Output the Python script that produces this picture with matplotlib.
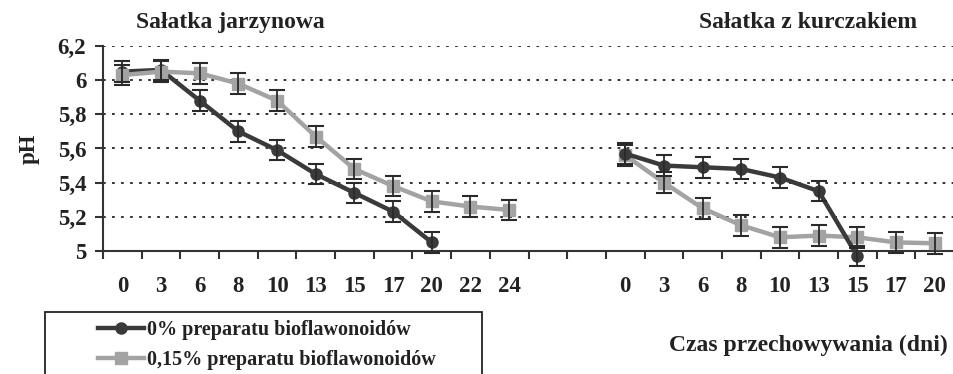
import matplotlib
matplotlib.use("Agg")
import matplotlib.pyplot as plt
from matplotlib.patches import Rectangle
import numpy as np

plt.rcParams['font.family'] = ['Liberation Serif', 'DejaVu Serif']
plt.rcParams['font.weight'] = 'bold'

# Categories (storage time, days)
days_veg = ["0", "3", "6", "8", "10", "13", "15", "17", "20", "22", "24"]
days_chk = ["0", "3", "6", "8", "10", "13", "15", "17", "20"]
gap = 2  # empty categories between the two panels

# Sałatka jarzynowa
veg_0 = [6.05, 6.06, 5.88, 5.70, 5.59, 5.45, 5.34, 5.23, 5.05, None, None]
veg_015 = [6.03, 6.05, 6.04, 5.98, 5.88, 5.67, 5.48, 5.38, 5.29, 5.26, 5.24]
# Sałatka z kurczakiem
chk_0 = [5.57, 5.50, 5.49, 5.48, 5.43, 5.35, 4.97, None, None]
chk_015 = [5.56, 5.40, 5.25, 5.15, 5.08, 5.09, 5.08, 5.05, 5.045]
err = 0.06

yticks = [5.0, 5.2, 5.4, 5.6, 5.8, 6.0, 6.2]
yticklabels = ["5", "5,2", "5,4", "5,6", "5,8", "6", "6,2"]

c_dark = "#3a3a3a"
c_gray = "#a3a3a3"
c_err = "#2a2a2a"

fig = plt.figure(figsize=(9.54, 3.74), dpi=100)
ax = fig.add_axes([0.108, 0.329, 0.892, 0.548])

n_veg = len(days_veg)
n_chk = len(days_chk)
x_veg = np.arange(n_veg)
x_chk = np.arange(n_chk) + n_veg + gap
ncat = n_veg + gap + n_chk


def plot_series(x, vals, color, marker, label=None):
    xs = [xi for xi, v in zip(x, vals) if v is not None]
    ys = [v for v in vals if v is not None]
    line, = ax.plot(xs, ys, color=color, lw=3.2, marker=marker, ms=8,
                    mfc=color, mec=color, zorder=3, clip_on=False, label=label)
    ax.errorbar(xs, ys, yerr=err, fmt='none', ecolor=c_err, elinewidth=1.3,
                capsize=5.5, capthick=1.5, zorder=4, clip_on=False)
    return line


h1 = plot_series(x_veg, veg_0, c_dark, 'o', "0% preparatu bioflawonoidów")
h2 = plot_series(x_veg, veg_015, c_gray, 's', "0,15% preparatu bioflawonoidów")
plot_series(x_chk, chk_015, c_gray, 's')
plot_series(x_chk, chk_0, c_dark, 'o')

ax.set_xlim(-0.5, ncat - 0.5)
ax.set_ylim(5.0, 6.2)
ax.set_yticks(yticks)
ax.set_yticklabels(yticklabels, fontsize=16.5, fontweight='bold', color="#222222")
for y in yticks[1:]:
    ax.axhline(y, color="#222222", lw=1.3, ls=(0, (1.5, 3.5)), zorder=1)

centers = list(x_veg) + list(x_chk)
ax.set_xticks(centers)
ax.set_xticklabels(days_veg + days_chk, fontsize=16.5, fontweight='bold', color="#222222")
ax.tick_params(axis='x', which='major', length=0, pad=18)
ax.set_xticks(np.arange(ncat + 1) - 0.5, minor=True)
ax.tick_params(axis='x', which='minor', length=6, width=1.5, color="#333333", direction='out')
ax.tick_params(axis='y', length=6, width=1.5, color="#333333", direction='out', pad=6)

for s in ['top', 'right']:
    ax.spines[s].set_visible(False)
for s in ['left', 'bottom']:
    ax.spines[s].set_linewidth(1.5)
    ax.spines[s].set_color("#333333")

ax.set_ylabel("pH", fontsize=16.5, fontweight='bold', color="#222222")
ax.yaxis.set_label_coords(-0.074, 0.5)

fig.text(0.242, 0.941, "Sałatka jarzynowa", fontsize=17, fontweight='bold',
         ha='center', va='center', color="#222222")
fig.text(0.847, 0.941, "Sałatka z kurczakiem", fontsize=17, fontweight='bold',
         ha='center', va='center', color="#222222")
fig.text(0.993, 0.077, "Czas przechowywania (dni)", fontsize=17, fontweight='bold',
         ha='right', va='center', color="#222222")

# legend frame (extends past the bottom edge as in the reference)
fig.patches.append(Rectangle((45 / 954, -0.2), (482 - 45) / 954, 0.2 + (374 - 312) / 374,
                             transform=fig.transFigure, fill=False,
                             edgecolor="#222222", lw=1.3, zorder=5))

leg = fig.legend(handles=[h1, h2], loc='upper left', bbox_to_anchor=(98 / 954, 1 - 320 / 374),
                 frameon=False, handlelength=2.3, handletextpad=0.15, borderpad=0,
                 labelspacing=0.5, borderaxespad=0,
                 prop={'weight': 'bold', 'size': 14.5})
for t in leg.get_texts():
    t.set_color("#222222")

fig.savefig("out.png", dpi=100)
